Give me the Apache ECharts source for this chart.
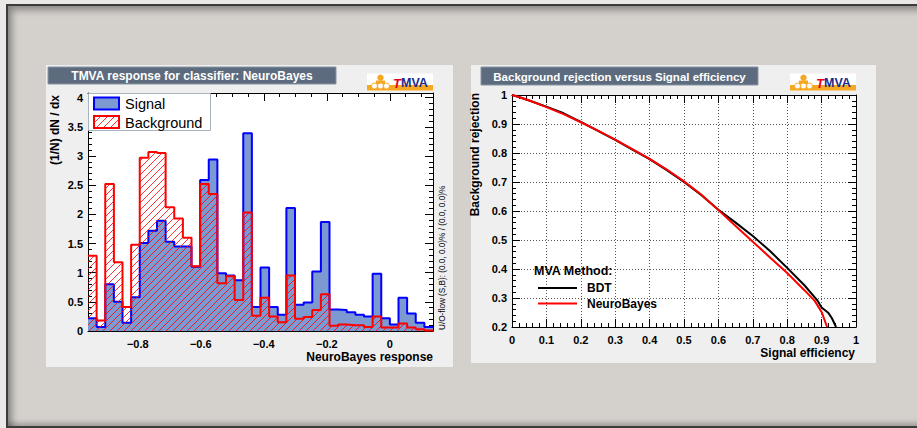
<!DOCTYPE html>
<html>
<head>
<meta charset="utf-8">
<script src="https://cdn.jsdelivr.net/npm/echarts@6/dist/echarts.min.js"></script>
<style>
  html, body { margin: 0; padding: 0; background: #ebe9e7; overflow: hidden; }
  #frame {
    position: absolute; left: 6px; top: 4px; width: 930px; height: 424px;
    background: #d4d0cc; box-sizing: border-box;
    border-left: 2px solid #3c3c3c; border-top: 2px solid #3c3c3c; border-bottom: 2px solid #3c3c3c;
    box-shadow: inset 7px 7px 7px -3px rgba(0,0,0,0.35), inset 0 -5px 5px -2px rgba(0,0,0,0.25);
  }
  .pad { position: absolute; background: #efefef; }
  #chart { position: absolute; left: 0; top: 0; width: 917px; height: 428px; }
</style>
</head>
<body>
<div id="frame"></div>
<div class="pad" style="left:46px;top:65px;width:407px;height:302px;"></div>
<div class="pad" style="left:471px;top:65px;width:405px;height:298px;"></div>
<div id="chart"></div>
<script>
// ---- histogram: NeuroBayes response, 40 bins ----
const histMin = -0.958;
const histMax = 0.137;
const nBins = 40;
const signal = [
  0.22, 0.07, 0.80, 0.50, 0.14, 0.58, 1.51, 1.72, 1.89, 1.53,
  1.45, 1.45, 1.10, 2.59, 2.94, 0.99, 0.95, 0.87, 3.39, 0.41,
  1.09, 0.41, 0.28, 2.11, 0.45, 0.49, 1.02, 1.87, 0.37, 0.36,
  0.32, 0.28, 0.25, 0.98, 0.22, 0.11, 0.57, 0.30, 0.14, 0.07
];
const background = [
  1.29, 0.18, 2.52, 1.18, 0.41, 1.48, 2.97, 3.07, 3.05, 2.12,
  1.93, 1.60, 1.11, 2.52, 2.35, 0.82, 0.94, 0.53, 2.03, 0.26,
  0.57, 0.25, 0.15, 0.95, 0.21, 0.24, 0.36, 0.63, 0.09, 0.11,
  0.10, 0.10, 0.07, 0.25, 0.06, 0.06, 0.13, 0.06, 0.03, 0.01
];
const histXTicks = [-0.8, -0.6, -0.4, -0.2, 0];
const histYTicks = [0, 0.5, 1, 1.5, 2, 2.5, 3, 3.5, 4];

// ---- ROC curves: background rejection vs signal efficiency ----
const effBDT = [0, 0.02, 0.05, 0.1, 0.15, 0.2, 0.25, 0.3, 0.35, 0.4, 0.45, 0.5, 0.55, 0.6,
                0.65, 0.7, 0.75, 0.8, 0.85, 0.887, 0.9, 0.92, 0.93, 0.942];
const rejBDT = [1, 0.993, 0.981, 0.96, 0.937, 0.907, 0.876, 0.845, 0.812, 0.779, 0.741, 0.70, 0.655, 0.604,
                0.56, 0.514, 0.462, 0.404, 0.344, 0.293, 0.267, 0.248, 0.23, 0.2];
const effNB = [0, 0.02, 0.05, 0.1, 0.15, 0.2, 0.25, 0.3, 0.35, 0.4, 0.45, 0.5, 0.55, 0.6,
               0.65, 0.7, 0.75, 0.8, 0.85, 0.88, 0.9, 0.916];
const rejNB = [1, 0.993, 0.981, 0.958, 0.934, 0.906, 0.877, 0.846, 0.813, 0.78, 0.743, 0.702, 0.657, 0.603,
               0.548, 0.494, 0.44, 0.386, 0.327, 0.29, 0.252, 0.2];

const FONT = 'Liberation Sans';
const SIG_FILL = '#7d99d1';
const SIG_LINE = '#0000ff';
const BKG_LINE = '#ff0000';

function hatch() {
  const s = 7;
  const c = document.createElement('canvas');
  c.width = s; c.height = s;
  const g = c.getContext('2d');
  g.strokeStyle = 'rgba(255,0,0,0.8)';
  g.lineWidth = 1;
  g.beginPath();
  g.moveTo(0, s); g.lineTo(s, 0);
  g.moveTo(-1, 1); g.lineTo(1, -1);
  g.moveTo(s - 1, s + 1); g.lineTo(s + 1, s - 1);
  g.stroke();
  return { image: c, repeat: 'repeat', imageWidth: s, imageHeight: s };
}
const hatchFill = hatch();

// step data from bin contents
const binW = (histMax - histMin) / nBins;
function stepData(vals) {
  const d = vals.map((v, i) => [histMin + i * binW, v]);
  d.push([histMax, vals[vals.length - 1]]);
  return d;
}
function range(a, b, step) {
  const out = [];
  for (let v = a; v <= b + 1e-9; v += step) out.push(+v.toFixed(4));
  return out;
}
const histXMinor = range(-0.95, 0.1, 0.05);
const histYMinor = range(0, 4.0, 0.1);
const minus = v => (v < 0 ? '\u2212' + Math.abs(v).toFixed(1) : (v === 0 ? '0' : String(v)));

const labelStyle = { fontFamily: FONT, fontWeight: 'bold', fontSize: 11, color: '#000' };
const noSplit = { show: false };
const blackLine = { show: true, onZero: false, lineStyle: { color: '#000', width: 1 } };
const hiddenLine = { show: false, onZero: false };

function xAx(grid, pos, ticks, len, labels, showLine) {
  return {
    type: 'value', gridIndex: grid, position: pos, min: histMin, max: histMax,
    axisLine: showLine ? blackLine : hiddenLine,
    axisTick: { show: true, inside: true, length: len, customValues: ticks, lineStyle: { color: '#000' } },
    axisLabel: labels ? Object.assign({ show: true, customValues: histXTicks, formatter: minus, margin: 7 }, labelStyle) : { show: false },
    splitLine: noSplit
  };
}
function yAx(grid, pos, ticks, len, labels, showLine) {
  return {
    type: 'value', gridIndex: grid, position: pos, min: 0, max: 4.08,
    axisLine: showLine ? blackLine : hiddenLine,
    axisTick: { show: true, inside: true, length: len, customValues: ticks, lineStyle: { color: '#000' } },
    axisLabel: labels ? Object.assign({ show: true, customValues: histYTicks, formatter: v => String(v), margin: 5 }, labelStyle) : { show: false },
    splitLine: noSplit
  };
}
function rocX(pos, labels) {
  return {
    type: 'value', gridIndex: 1, position: pos, min: 0, max: 1, interval: 0.1,
    axisLine: blackLine,
    axisTick: { show: true, inside: true, length: 8, lineStyle: { color: '#000' } },
    minorTick: { show: true, splitNumber: 5, length: 4, lineStyle: { color: '#000' } },
    axisLabel: labels ? Object.assign({ show: true, margin: 7, formatter: v => String(+v.toFixed(1)) }, labelStyle) : { show: false },
    splitLine: labels ? { show: true, lineStyle: { color: '#555', type: [1, 2], width: 1 } } : noSplit
  };
}
function rocY(pos, labels) {
  return {
    type: 'value', gridIndex: 1, position: pos, min: 0.2, max: 1, interval: 0.1,
    axisLine: blackLine,
    axisTick: { show: true, inside: true, length: 8, lineStyle: { color: '#000' } },
    minorTick: { show: true, splitNumber: 5, length: 4, lineStyle: { color: '#000' } },
    axisLabel: labels ? Object.assign({ show: true, margin: 5, formatter: v => String(+v.toFixed(1)) }, labelStyle) : { show: false },
    splitLine: labels ? { show: true, lineStyle: { color: '#555', type: [1, 2], width: 1 } } : noSplit
  };
}

function logo(x, y) {
  return {
    type: 'group', x: x, y: y, children: [
      { type: 'rect', shape: { x: 0, y: 0, width: 66, height: 17 }, style: { fill: '#ffffff' } },
      { type: 'rect', shape: { x: 0, y: 11.5, width: 66, height: 5.5 }, style: { fill: '#f7a823' } },
      { type: 'rect', shape: { x: 9, y: 7, width: 9, height: 4 }, style: { fill: '#f7a823' } },
      { type: 'circle', shape: { cx: 13.5, cy: 4.3, r: 3.2 }, style: { fill: '#f7a823' } },
      { type: 'circle', shape: { cx: 7.5, cy: 12.5, r: 3 }, style: { fill: '#ffffff', stroke: '#f7a823', lineWidth: 1 } },
      { type: 'circle', shape: { cx: 13.5, cy: 12.5, r: 3 }, style: { fill: '#ffffff', stroke: '#f7a823', lineWidth: 1 } },
      { type: 'circle', shape: { cx: 19.5, cy: 12.5, r: 3 }, style: { fill: '#ffffff', stroke: '#f7a823', lineWidth: 1 } },
      { type: 'text', x: 26, y: 9.5, style: { text: 'T', fill: '#e3001b', font: 'italic bold 13px "' + FONT + '"', verticalAlign: 'middle' } },
      { type: 'text', x: 34, y: 9.5, style: { text: 'MVA', fill: '#1c2b8c', font: 'bold 12.5px "' + FONT + '"', verticalAlign: 'middle' } }
    ]
  };
}
function titleBox(x, y, w, h, text, size) {
  return {
    type: 'group', x: x, y: y, children: [
      { type: 'rect', shape: { x: 0, y: 0, width: w, height: h }, style: { fill: '#5c6b7d', stroke: '#8995a3', lineWidth: 1 } },
      { type: 'text', x: w / 2, y: h / 2 + 0.5, style: { text: text, fill: '#ffffff', font: 'bold ' + size + 'px "' + FONT + '"', align: 'center', verticalAlign: 'middle' } }
    ]
  };
}
function txt(x, y, text, size, opts) {
  return Object.assign({
    type: 'text', x: x, y: y,
    style: Object.assign({ text: text, fill: '#000', font: 'bold ' + size + 'px "' + FONT + '"', verticalAlign: 'middle' }, (opts && opts.style) || {})
  }, (opts && opts.el) || {});
}

const chart = echarts.init(document.getElementById('chart'), null, { renderer: 'svg' });
chart.setOption({
  animation: false,
  grid: [
    { left: 88, top: 93, width: 345, height: 238, show: true, backgroundColor: '#ffffff', borderWidth: 0 },
    { left: 512, top: 95, width: 344, height: 232, show: true, backgroundColor: '#ffffff', borderWidth: 0 }
  ],
  xAxis: [
    xAx(0, 'bottom', histXTicks, 8, true, true),
    xAx(0, 'bottom', histXMinor, 4, false, false),
    xAx(0, 'top', histXTicks, 8, false, true),
    xAx(0, 'top', histXMinor, 4, false, false),
    rocX('bottom', true),
    rocX('top', false)
  ],
  yAxis: [
    yAx(0, 'left', histYTicks, 8, true, true),
    yAx(0, 'left', histYMinor, 4, false, false),
    yAx(0, 'right', histYTicks, 8, false, true),
    yAx(0, 'right', histYMinor, 4, false, false),
    rocY('left', true),
    rocY('right', false)
  ],
  series: [
    {
      name: 'Signal', type: 'line', xAxisIndex: 0, yAxisIndex: 0, step: 'end',
      data: stepData(signal), symbol: 'none', z: 2,
      lineStyle: { color: SIG_LINE, width: 2 },
      areaStyle: { color: SIG_FILL, opacity: 1 }
    },
    {
      name: 'Background', type: 'line', xAxisIndex: 0, yAxisIndex: 0, step: 'end',
      data: stepData(background), symbol: 'none', z: 3,
      lineStyle: { color: BKG_LINE, width: 2 },
      areaStyle: { color: hatchFill, opacity: 1 }
    },
    {
      name: 'BDT', type: 'line', xAxisIndex: 4, yAxisIndex: 4,
      data: effBDT.map((e, i) => [e, rejBDT[i]]), symbol: 'none', z: 3,
      lineStyle: { color: '#000000', width: 2 }
    },
    {
      name: 'NeuroBayes', type: 'line', xAxisIndex: 4, yAxisIndex: 4,
      data: effNB.map((e, i) => [e, rejNB[i]]), symbol: 'none', z: 4,
      lineStyle: { color: '#ff0000', width: 2 }
    }
  ],
  graphic: [
    titleBox(48, 67, 288, 17, 'TMVA response for classifier: NeuroBayes', 12),
    titleBox(481, 67, 277, 18, 'Background rejection versus Signal efficiency', 11.5),
    logo(367, 73.5),
    logo(790, 73.5),
    // histogram legend
    { type: 'rect', z: 10, shape: { x: 88.5, y: 93.5, width: 122, height: 37 }, style: { fill: '#ffffff', stroke: '#a9b3bf', lineWidth: 1 } },
    { type: 'rect', z: 11, shape: { x: 94, y: 97.5, width: 25, height: 12 }, style: { fill: SIG_FILL, stroke: SIG_LINE, lineWidth: 2 } },
    { type: 'rect', z: 11, shape: { x: 94, y: 116, width: 25, height: 12 }, style: { fill: hatchFill, stroke: BKG_LINE, lineWidth: 2 } },
    txt(125, 104, 'Signal', 14.5, { style: { font: '500 14.5px "' + FONT + '"' }, el: { z: 11 } }),
    txt(125, 122.5, 'Background', 14.5, { style: { font: '500 14.5px "' + FONT + '"' }, el: { z: 11 } }),
    // axis titles
    txt(55, 95, '(1/N) dN / dx', 12, { style: { align: 'right' }, el: { rotation: Math.PI / 2 } }),
    txt(433, 357, 'NeuroBayes response', 12, { style: { align: 'right' } }),
    txt(442, 330, 'U/O-flow (S,B): (0.0, 0.0)% / (0.0, 0.0)%', 8.2, { style: { font: '8.2px "' + FONT + '"', align: 'left' }, el: { rotation: Math.PI / 2 } }),
    txt(475, 93, 'Background rejection', 12, { style: { align: 'right' }, el: { rotation: Math.PI / 2 } }),
    txt(855, 353, 'Signal efficiency', 12, { style: { align: 'right' } }),
    // ROC legend
    txt(534, 271, 'MVA Method:', 12.5, { el: { z: 10 } }),
    { type: 'line', z: 10, shape: { x1: 538, y1: 288, x2: 577, y2: 288 }, style: { stroke: '#000', lineWidth: 2 } },
    txt(587, 288, 'BDT', 12, { el: { z: 10 } }),
    { type: 'line', z: 10, shape: { x1: 538, y1: 303.5, x2: 577, y2: 303.5 }, style: { stroke: '#ff0000', lineWidth: 2 } },
    txt(587, 303.5, 'NeuroBayes', 12, { el: { z: 10 } })
  ]
});
</script>
</body>
</html>
